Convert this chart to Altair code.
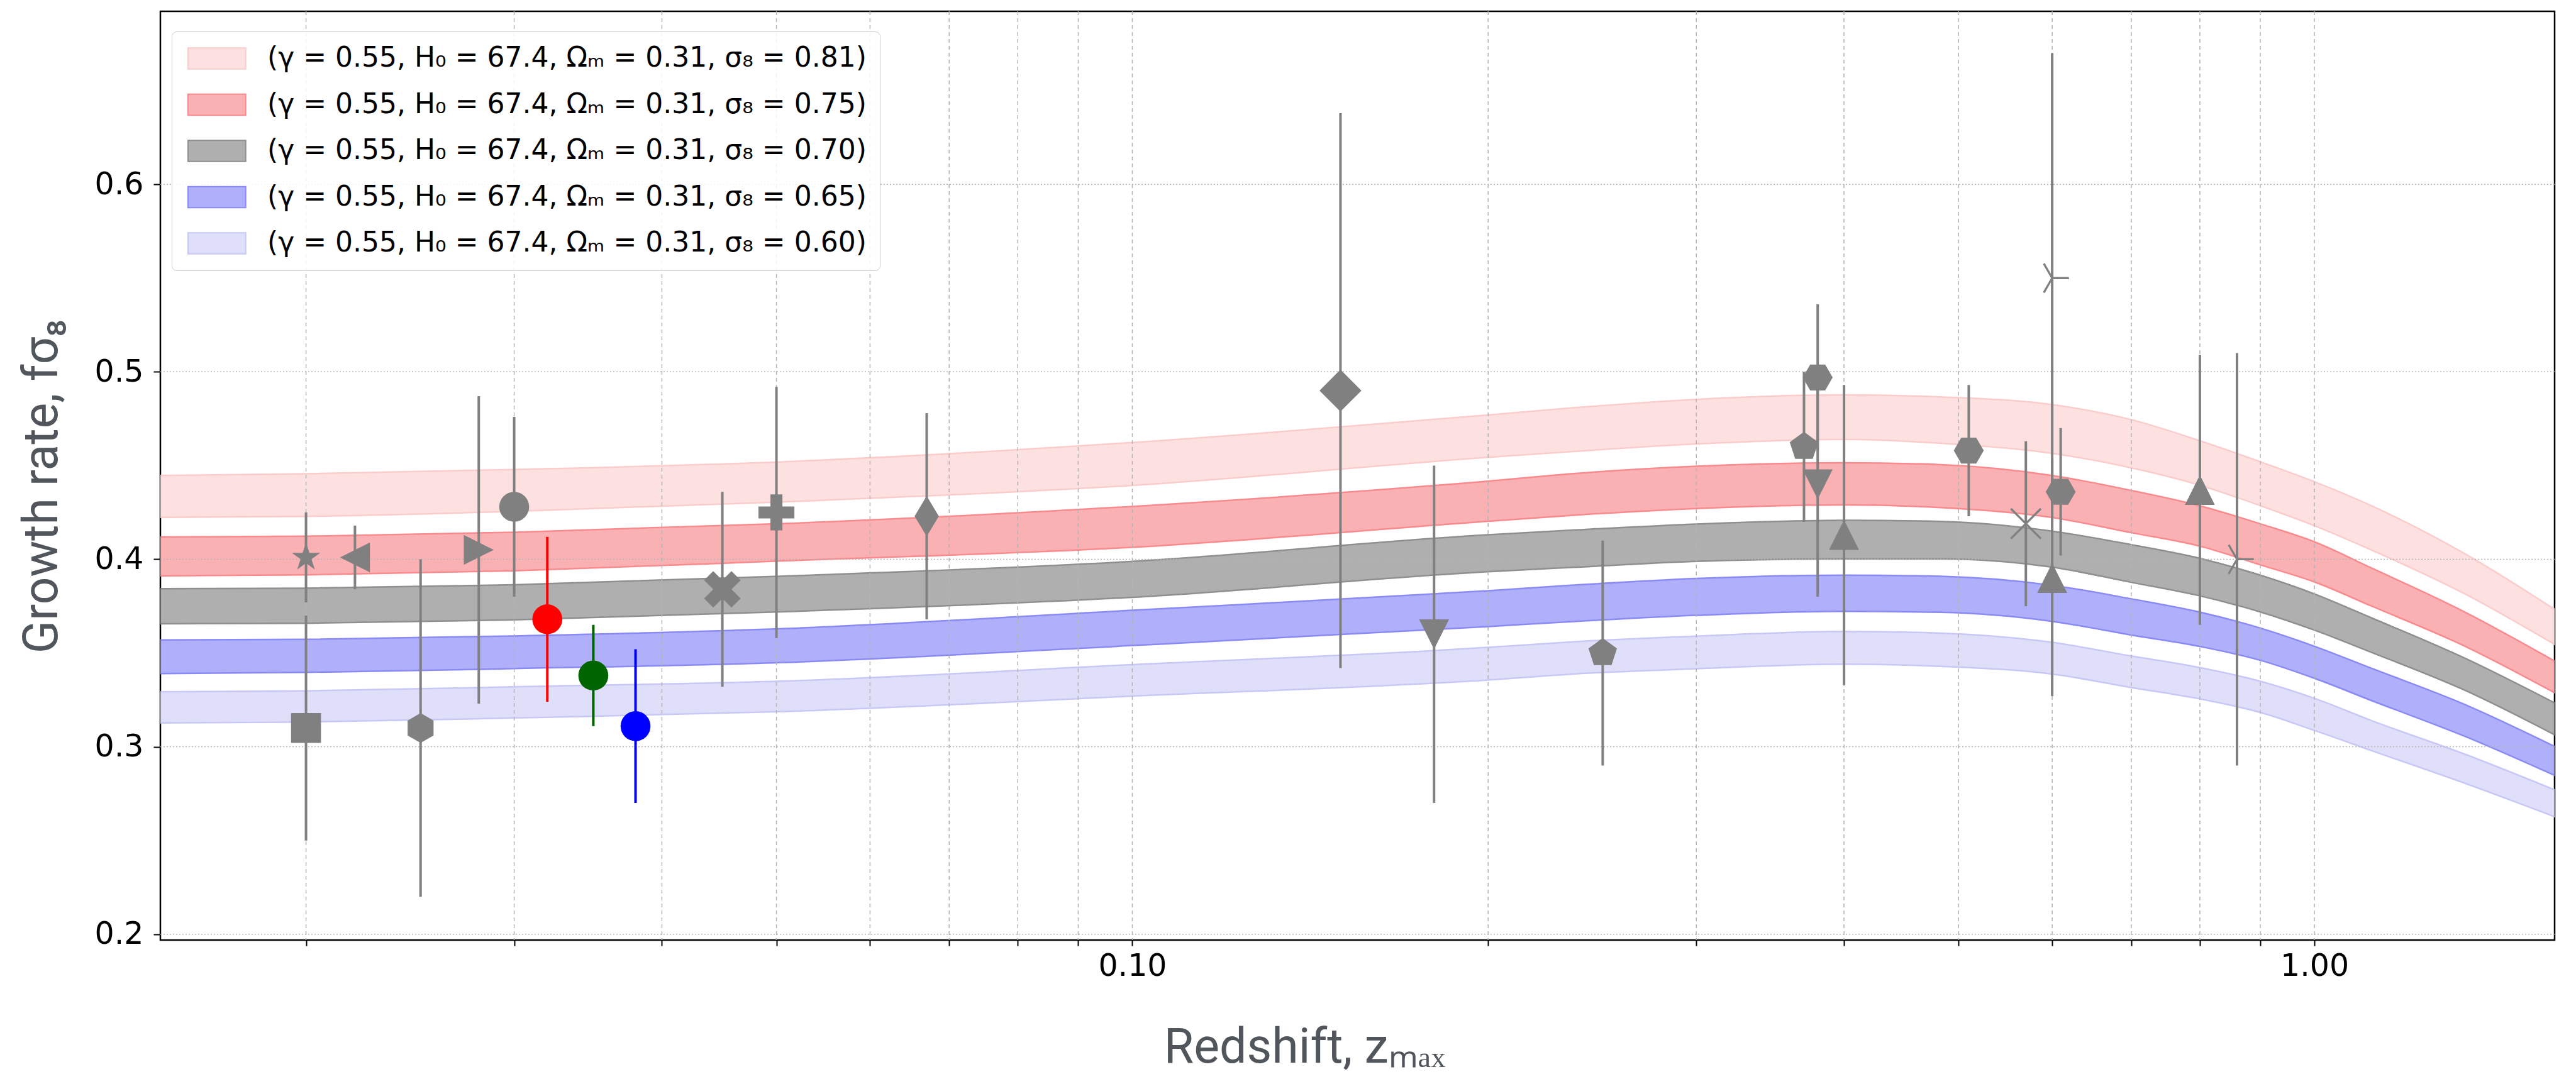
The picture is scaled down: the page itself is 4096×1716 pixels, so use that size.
import math
import altair as alt
import pandas as pd

# ---------------- data ----------------
band_labels = [
    "(γ = 0.55, H₀ = 67.4, Ωₘ = 0.31, σ₈ = 0.81)",
    "(γ = 0.55, H₀ = 67.4, Ωₘ = 0.31, σ₈ = 0.75)",
    "(γ = 0.55, H₀ = 67.4, Ωₘ = 0.31, σ₈ = 0.70)",
    "(γ = 0.55, H₀ = 67.4, Ωₘ = 0.31, σ₈ = 0.65)",
    "(γ = 0.55, H₀ = 67.4, Ωₘ = 0.31, σ₈ = 0.60)",
]
band_z = [0.01506, 0.02, 0.03, 0.051, 0.1, 0.2, 0.236, 0.3, 0.4, 0.483,
          0.6, 0.7, 0.8, 0.9, 1.0, 1.117, 1.341, 1.5965]
s081_hi = [0.4447, 0.4456, 0.4479, 0.4521, 0.4623, 0.4770, 0.4808, 0.4853, 0.4877, 0.4866,
           0.4825, 0.4745, 0.4632, 0.4520, 0.4414, 0.4286, 0.4029, 0.3733]
s081_lo = [0.4224, 0.4229, 0.4256, 0.4307, 0.4394, 0.4544, 0.4575, 0.4615, 0.4640, 0.4619,
           0.4565, 0.4488, 0.4395, 0.4286, 0.4179, 0.4050, 0.3815, 0.3546]
s075_hi = [0.4119, 0.4123, 0.4144, 0.4191, 0.4282, 0.4417, 0.4457, 0.4496, 0.4515, 0.4505,
           0.4447, 0.4367, 0.4285, 0.4189, 0.4093, 0.3954, 0.3718, 0.3457]
s075_lo = [0.3912, 0.3917, 0.3939, 0.3992, 0.4064, 0.4203, 0.4235, 0.4271, 0.4290, 0.4276,
           0.4223, 0.4142, 0.4070, 0.3970, 0.3879, 0.3751, 0.3536, 0.3288]
s070_hi = [0.3843, 0.3846, 0.3864, 0.3911, 0.3989, 0.4131, 0.4156, 0.4188, 0.4208, 0.4202,
           0.4150, 0.4078, 0.4005, 0.3915, 0.3815, 0.3688, 0.3472, 0.3234]
s070_lo = [0.3656, 0.3659, 0.3677, 0.3721, 0.3797, 0.3934, 0.3957, 0.3989, 0.4002, 0.4002,
           0.3958, 0.3877, 0.3805, 0.3719, 0.3622, 0.3504, 0.3301, 0.3064]
s065_hi = [0.3570, 0.3573, 0.3591, 0.3631, 0.3728, 0.3832, 0.3862, 0.3898, 0.3915, 0.3909,
           0.3861, 0.3789, 0.3718, 0.3633, 0.3536, 0.3419, 0.3225, 0.3002]
s065_lo = [0.3390, 0.3397, 0.3417, 0.3450, 0.3540, 0.3641, 0.3668, 0.3701, 0.3722, 0.3717,
           0.3669, 0.3596, 0.3535, 0.3461, 0.3365, 0.3247, 0.3055, 0.2847]
s060_hi = [0.3293, 0.3298, 0.3320, 0.3351, 0.3438, 0.3530, 0.3560, 0.3590, 0.3615, 0.3606,
           0.3557, 0.3484, 0.3422, 0.3349, 0.3258, 0.3140, 0.2960, 0.2770]
s060_lo = [0.3127, 0.3132, 0.3154, 0.3188, 0.3270, 0.3356, 0.3388, 0.3416, 0.3441, 0.3429,
           0.3388, 0.3316, 0.3255, 0.3183, 0.3087, 0.2980, 0.2805, 0.2627]

pt_z = [0.020, 0.020, 0.022, 0.025, 0.028, 0.030, 0.032, 0.035, 0.038, 0.045, 0.050,
        0.067, 0.150, 0.180, 0.250, 0.370, 0.380, 0.380, 0.400, 0.510, 0.570, 0.600,
        0.600, 0.610, 0.800, 0.860]
pt_fs8 = [0.401, 0.310, 0.401, 0.310, 0.405, 0.428, 0.368, 0.338, 0.311, 0.384, 0.425,
          0.423, 0.490, 0.360, 0.350, 0.460, 0.497, 0.440, 0.413, 0.458, 0.419, 0.390,
          0.550, 0.436, 0.437, 0.400]
pt_err = [0.024, 0.060, 0.017, 0.090, 0.082, 0.048, 0.044, 0.027, 0.041, 0.052, 0.067,
          0.055, 0.148, 0.090, 0.060, 0.040, 0.039, 0.060, 0.080, 0.035, 0.044, 0.063,
          0.120, 0.034, 0.072, 0.110]
pt_kind = ["star", "square", "tri_left", "hex1", "tri_right", "circle", "circle_red",
           "circle_green", "circle_blue", "x_filled", "plus_filled", "thin_diamond",
           "diamond", "tri_down", "pentagon", "pentagon", "hex2", "tri_down", "tri_up",
           "hex2", "x_thin", "tri_up", "tri_right_thin", "hex2", "tri_up", "tri_right_thin"]

grid_x = [0.02, 0.03, 0.04, 0.05, 0.06, 0.07, 0.08, 0.09, 0.1,
          0.2, 0.3, 0.4, 0.5, 0.6, 0.7, 0.8, 0.9, 1.0]
grid_y = [0.2, 0.3, 0.4, 0.5, 0.6]

# ---------------- tables ----------------
band_hi = [s081_hi, s075_hi, s070_hi, s065_hi, s060_hi]
band_lo = [s081_lo, s075_lo, s070_lo, s065_lo, s060_lo]
rows = []
for lab, hi, lo in zip(band_labels, band_hi, band_lo):
    for z, h, l in zip(band_z, hi, lo):
        rows.append({"band": lab, "z": z, "lo": l, "hi": h})
band_df = pd.DataFrame(rows)

pts = pd.DataFrame({"z": pt_z, "fs8": pt_fs8, "err": pt_err, "kind": pt_kind})
pts["lo"] = pts["fs8"] - pts["err"]
pts["hi"] = pts["fs8"] + pts["err"]

# ---------------- styles ----------------
def poly(p):
    return "M" + "L".join(f"{x:.3f},{y:.3f}" for x, y in p) + "Z"

def ngon(n, r, start):
    return [(r * math.cos(math.radians(start + 360 * k / n)),
             r * math.sin(math.radians(start + 360 * k / n))) for k in range(n)]

star_pts = [((1.0 if k % 2 == 0 else 0.382) * math.cos(math.radians(-90 + 36 * k)),
             (1.0 if k % 2 == 0 else 0.382) * math.sin(math.radians(-90 + 36 * k)))
            for k in range(10)]
a, t = 1.2, 0.4
plus_pts = [(-t, -a), (t, -a), (t, -t), (a, -t), (a, t), (t, t), (t, a), (-t, a),
            (-t, t), (-a, t), (-a, -t), (-t, -t)]
c = math.cos(math.pi / 4)
rot = [((x - y) * c, (x + y) * c) for x, y in plus_pts]
m = max(max(abs(x), abs(y)) for x, y in rot)
x_pts = [(x * 1.22 / m, y * 1.22 / m) for x, y in rot]

shape_map = {
    "star": poly(star_pts),
    "square": "square",
    "tri_left": "M-1,0L1,-1L1,1Z",
    "tri_right": "M1,0L-1,-1L-1,1Z",
    "tri_up": "M0,-1L1,1L-1,1Z",
    "tri_down": "M0,1L1,-1L-1,-1Z",
    "hex1": poly(ngon(6, 1.0, -90)),
    "hex2": poly(ngon(6, 1.0, 0)),
    "pentagon": poly(ngon(5, 1.0, -90)),
    "circle": "circle",
    "circle_red": "circle",
    "circle_green": "circle",
    "circle_blue": "circle",
    "x_filled": poly(x_pts),
    "plus_filled": poly(plus_pts),
    "thin_diamond": "M0,-1.35L0.81,0L0,1.35L-0.81,0Z",
    "diamond": "M0,-1.4L1.4,0L0,1.4L-1.4,0Z",
    "x_thin": "M-1,-1L1,1M-1,1L1,-1",
    "tri_right_thin": "M0,0L1.12,0M0,0L-0.56,-0.97M0,0L-0.56,0.97",
}
color_map = {k: "#808080" for k in shape_map}
color_map["circle_red"] = "#ff0000"
color_map["circle_green"] = "#006400"
color_map["circle_blue"] = "#0000ff"
kinds = list(shape_map.keys())
shape_scale = alt.Scale(domain=kinds, range=[shape_map[k] for k in kinds])
color_scale = alt.Scale(domain=kinds, range=[color_map[k] for k in kinds])
thin_kinds = ["x_thin", "tri_right_thin"]
filled_kinds = [k for k in kinds if k not in thin_kinds]

band_fill = ["#fde1e1", "#fab1b3", "#afafaf", "#afaffa", "#dfdffa"]
band_edge = ["#fbcccc", "#f98a8e", "#8f8f8f", "#8a8af5", "#c8c8f6"]

x_scale = alt.Scale(type="log", domain=[0.01506, 1.5965], nice=False)
y_scale = alt.Scale(domain=[0.1969, 0.6923], nice=False, zero=False)

x_axis = alt.Axis(
    values=grid_x,
    labelExpr="abs(datum.value - 0.1) < 1e-9 ? '0.10' : (abs(datum.value - 1) < 1e-9 ? '1.00' : '')",
    grid=False, domain=False, ticks=True, tickSize=9, tickWidth=2, tickColor="black",
    labelFont="DejaVu Sans", labelFontSize=49, labelColor="black", labelPadding=8,
    labelOverlap=False, labelFlush=False,
    title="Redshift, zₘₐₓ", titleFont="Roboto", titleFontSize=77, titleFontWeight="normal",
    titleColor="#50565c", titleX=1819, titleY=194, titleBaseline="alphabetic", titleAlign="center",
)
y_axis = alt.Axis(
    values=grid_y, format=".1f",
    grid=False, domain=False, ticks=True, tickSize=11, tickWidth=2, tickColor="black",
    labelFont="DejaVu Sans", labelFontSize=49, labelColor="black", labelPadding=16,
    labelOverlap=False, labelFlush=False,
    title="Growth rate, fσ₈", titleFont="Roboto", titleFontSize=77, titleFontWeight="normal",
    titleColor="#50565c", titleX=-165, titleY=755, titleAngle=-90, titleBaseline="alphabetic",
    titleAlign="center",
)

def X(f):
    return alt.X(f"{f}:Q", scale=x_scale, axis=x_axis)

def Y(f):
    return alt.Y(f"{f}:Q", scale=y_scale, axis=y_axis)

legend_kw = dict(
    title=None, orient="none", legendX=18, legendY=32, padding=21,
    fillColor="rgba(255,255,255,0.85)", strokeColor="#cccccc", cornerRadius=8,
    symbolType="M-1,-0.982L4.394,-0.982L4.394,0.982L-1,0.982Z", symbolSize=1156,
    symbolStrokeWidth=2, labelFont="DejaVu Sans", labelFontSize=44, labelLimit=3000,
    labelColor="black", labelOffset=87, rowPadding=29.5,
)

area = alt.Chart(band_df).mark_area(interpolate="monotone", strokeWidth=2.5, clip=True,
                                     opacity=1).encode(
    x=X("z"), y=Y("lo"), y2="hi",
    fill=alt.Fill("band:N", scale=alt.Scale(domain=band_labels, range=band_fill),
                  legend=alt.Legend(**legend_kw)),
    stroke=alt.Stroke("band:N", scale=alt.Scale(domain=band_labels, range=band_edge),
                      legend=alt.Legend(**legend_kw)),
)

gx = alt.Chart(pd.DataFrame({"gx": grid_x})).mark_rule(
    color="#b4b4b4", strokeWidth=1.5, strokeDash=[6, 5]).encode(x=X("gx"))
gy = alt.Chart(pd.DataFrame({"gy": grid_y})).mark_rule(
    color="#b4b4b4", strokeWidth=1.5, strokeDash=[2, 3]).encode(y=Y("gy"))

bars = alt.Chart(pts).mark_rule(strokeWidth=4, clip=True).encode(
    x=X("z"), y=Y("lo"), y2="hi",
    color=alt.Color("kind:N", scale=color_scale, legend=None),
)
pts_filled = alt.Chart(pts).transform_filter(
    alt.FieldOneOfPredicate(field="kind", oneOf=filled_kinds)
).mark_point(filled=True, size=2266, opacity=1, strokeWidth=0).encode(
    x=X("z"), y=Y("fs8"),
    shape=alt.Shape("kind:N", scale=shape_scale, legend=None),
    color=alt.Color("kind:N", scale=color_scale, legend=None),
)
pts_thin = alt.Chart(pts).transform_filter(
    alt.FieldOneOfPredicate(field="kind", oneOf=thin_kinds)
).mark_point(filled=False, size=2266, opacity=1, strokeWidth=3.3).encode(
    x=X("z"), y=Y("fs8"),
    shape=alt.Shape("kind:N", scale=shape_scale, legend=None),
    color=alt.Color("kind:N", scale=color_scale, legend=None),
)

chart = alt.layer(area, gx, gy, bars, pts_filled, pts_thin).properties(
    width=3807, height=1477,
    padding={"left": 255, "top": 18, "right": 34, "bottom": 221},
    autosize=alt.AutoSizeParams(type="none"),
    background="white",
).configure_view(stroke="black", strokeWidth=2.5)

chart.save("out.html", embed_options={"renderer": "svg", "actions": False})
